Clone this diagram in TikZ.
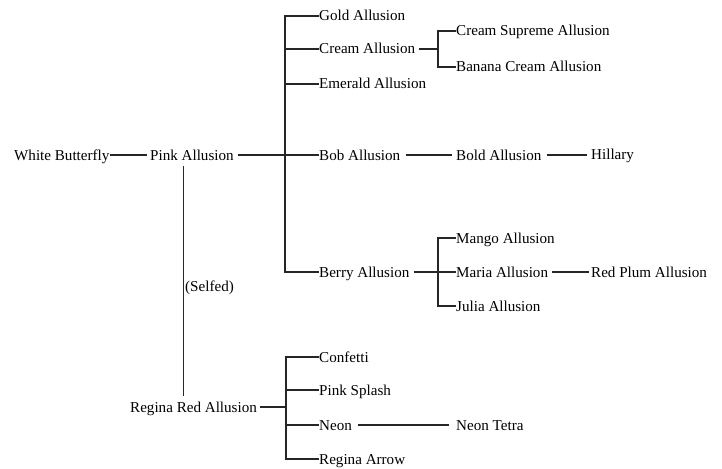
\documentclass[tikz,border=0pt]{standalone}
\usepackage{fontspec}
\setmainfont{Liberation Serif}
\usetikzlibrary{calc}

\begin{document}
\begin{tikzpicture}[x=1pt, y=-1pt,
  cultivar/.style={anchor=west, inner sep=0pt, text height=10pt, text depth=0pt,
    font=\fontsize{15.1}{18}\selectfont},
  link/.style={line width=1.2pt, black!85}]
  \useasboundingbox (0,0) rectangle (722,468);

  % Parents
  \node[cultivar] (wb) at (14,155) {White Butterfly};
  \node[cultivar] (pink) at (150,155) {Pink Allusion};
  \node[cultivar] (selfed) at (185,286) {(Selfed)};
  \node[cultivar] (regina) at (130,407) {Regina Red Allusion};

  % Seedlings of Pink Allusion
  \node[cultivar] (gold) at (319,16) {Gold Allusion};
  \node[cultivar] (cream) at (319,49) {Cream Allusion};
  \node[cultivar] (emerald) at (319,84) {Emerald Allusion};
  \node[cultivar] (bob) at (319,155) {Bob Allusion};
  \node[cultivar] (berry) at (319,272) {Berry Allusion};

  \node[cultivar] (csupreme) at (456,31) {Cream Supreme Allusion};
  \node[cultivar] (banana) at (456,67) {Banana Cream Allusion};
  \node[cultivar] (bold) at (456,155) {Bold Allusion};
  \node[cultivar] (hillary) at (591,154) {Hillary};
  \node[cultivar] (mango) at (456,238) {Mango Allusion};
  \node[cultivar] (maria) at (456,272) {Maria Allusion};
  \node[cultivar] (julia) at (456,306) {Julia Allusion};
  \node[cultivar] (redplum) at (591,272) {Red Plum Allusion};

  % Seedlings of Regina Red Allusion
  \node[cultivar] (confetti) at (319,357) {Confetti};
  \node[cultivar] (splash) at (319,390) {Pink Splash};
  \node[cultivar] (neon) at (319,425) {Neon};
  \node[cultivar] (rarrow) at (319,459) {Regina Arrow};
  \node[cultivar] (tetra) at (456,425) {Neon Tetra};

  % Junctions
  \coordinate (jpink) at (285,155);
  \coordinate (jcream) at (438,49);
  \coordinate (jberry) at (438,272);
  \coordinate (jregina) at (286,407);

  % Lines
  \draw[link] (wb.east) -- ([xshift=-3pt]pink.west);
  \draw[link] ([xshift=4pt]pink.east) -- (jpink);
  \draw[link] (gold.west) -| (jpink) |- (berry.west);
  \draw[link] (jpink |- cream.west) -- (cream.west);
  \draw[link] (jpink |- emerald.west) -- (emerald.west);
  \draw[link] (jpink) -- (bob.west);

  \draw[link] ([xshift=4pt]cream.east) -- (jcream);
  \draw[link] (csupreme.west) -| (jcream) |- (banana.west);

  \draw[link] ([xshift=6pt]bob.east) -- ([xshift=-4pt]bold.west);
  \draw[link] ([xshift=5pt]bold.east) -- ([xshift=-4pt]hillary.west |- bold.east);

  \draw[link] ([xshift=4pt]berry.east) -- (jberry);
  \draw[link] (mango.west) -| (jberry) |- (julia.west);
  \draw[link] (jberry) -- (maria.west);
  \draw[link] ([xshift=4pt]maria.east) -- ([xshift=-2pt]redplum.west);

  \draw[link] ([xshift=-8.5pt,yshift=-6pt]pink.south) -- ++(0,230);

  \draw[link] ([xshift=3pt]regina.east) -- (jregina);
  \draw[link] (confetti.west) -| (jregina) |- (rarrow.west);
  \draw[link] (jregina |- splash.west) -- (splash.west);
  \draw[link] (jregina |- neon.west) -- (neon.west);
  \draw[link] ([xshift=6pt]neon.east) -- ([xshift=-7pt]tetra.west);
\end{tikzpicture}
\end{document}
